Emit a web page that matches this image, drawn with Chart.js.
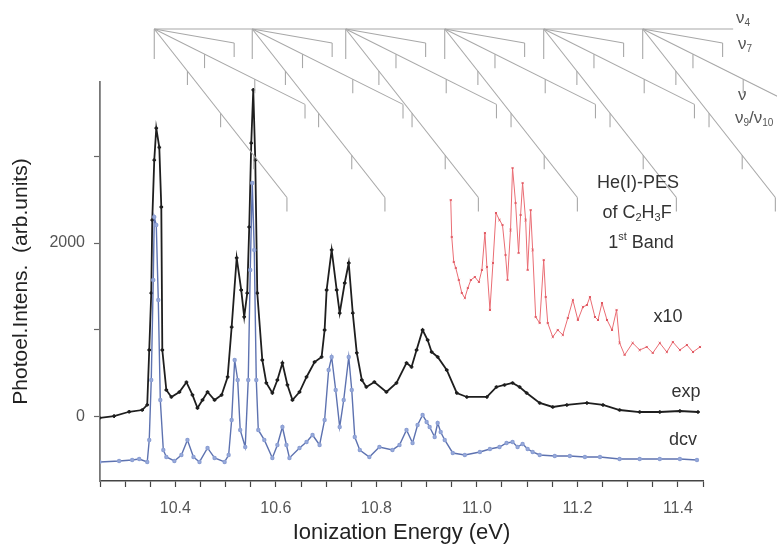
<!DOCTYPE html>
<html>
<head>
<meta charset="utf-8">
<script src="https://cdn.jsdelivr.net/npm/chart.js@4.4.1/dist/chart.umd.min.js"></script>
<style>
  html, body { margin: 0; padding: 0; background: #fff; }
  #wrap { width: 777px; height: 546px; }
</style>
</head>
<body>
<div id="wrap"><canvas id="myChart" width="777" height="546"></canvas></div>
<script>
// experimental spectrum (black)
const expEnergy = [10.249, 10.278, 10.308, 10.334, 10.344, 10.348, 10.352, 10.354, 10.358, 10.362,
  10.368, 10.372, 10.374, 10.382, 10.392, 10.408, 10.422, 10.434, 10.444, 10.454,
  10.464, 10.478, 10.492, 10.504, 10.512, 10.522, 10.531, 10.537, 10.543, 10.547,
  10.551, 10.555, 10.559, 10.563, 10.573, 10.581, 10.593, 10.603, 10.613, 10.623,
  10.633, 10.647, 10.661, 10.677, 10.691, 10.697, 10.701, 10.711, 10.721, 10.727,
  10.737, 10.745, 10.753, 10.761, 10.771, 10.780, 10.796, 10.820, 10.840, 10.860,
  10.870, 10.880, 10.892, 10.902, 10.910, 10.922, 10.940, 10.960, 10.980, 11.020,
  11.039, 11.055, 11.071, 11.085, 11.099, 11.125, 11.151, 11.179, 11.219, 11.251,
  11.284, 11.324, 11.364, 11.404, 11.440];
const expCounts = [-10, 10, 60, 80, 140, 770, 1425, 2264, 2954, 3320,
  3100, 2414, 770, 310, 230, 287, 400, 253, 103, 195,
  287, 195, 253, 460, 1034, 1828, 1460, 1150, 1425, 2184,
  3149, 3760, 2954, 1425, 655, 391, 276, 425, 621, 368,
  195, 287, 460, 632, 690, 1000, 1460, 1920, 1460, 1195,
  1540, 1770, 1195, 736, 425, 345, 402, 287, 391, 621,
  575, 770, 1000, 885, 747, 690, 540, 276, 230, 230,
  345, 368, 391, 345, 276, 161, 115, 138, 161, 138,
  80, 57, 57, 69, 57];

// deconvoluted spectrum (blue), offset below
const dcvEnergy = [10.249, 10.288, 10.314, 10.328, 10.344, 10.348, 10.352, 10.356, 10.358, 10.362,
  10.366, 10.370, 10.376, 10.382, 10.398, 10.412, 10.424, 10.436, 10.448, 10.464,
  10.478, 10.498, 10.506, 10.512, 10.518, 10.524, 10.529, 10.539, 10.545, 10.549,
  10.553, 10.557, 10.561, 10.565, 10.577, 10.593, 10.603, 10.613, 10.621, 10.627,
  10.647, 10.661, 10.673, 10.687, 10.697, 10.705, 10.711, 10.719, 10.727, 10.735,
  10.745, 10.751, 10.757, 10.767, 10.786, 10.806, 10.832, 10.846, 10.860, 10.872,
  10.882, 10.892, 10.900, 10.906, 10.916, 10.922, 10.928, 10.936, 10.952, 10.976,
  11.006, 11.026, 11.045, 11.059, 11.071, 11.081, 11.091, 11.101, 11.111, 11.125,
  11.155, 11.185, 11.215, 11.245, 11.284, 11.324, 11.364, 11.404, 11.438];
const dcvCounts = [-517, -506, -494, -483, -517, -264, 425, 1575, 2299, 2207,
  1345, 195, -379, -460, -506, -437, -264, -460, -517, -356,
  -471, -517, -437, -34, 655, 425, -149, -345, 425, 1690,
  2690, 1920, 425, -149, -264, -471, -322, -115, -322, -471,
  -356, -287, -207, -322, -34, 540, 690, 310, -115, 195,
  690, 310, -230, -379, -460, -345, -379, -322, -149, -299,
  -92, 23, -57, -115, -230, -69, -172, -264, -414, -437,
  -402, -368, -345, -299, -287, -345, -310, -368, -402, -437,
  -448, -448, -460, -460, -483, -483, -483, -483, -494];

// high energy part magnified x10 (red)
const x10Energy = [10.948, 10.950, 10.954, 10.958, 10.964, 10.970, 10.976, 10.982, 10.988, 10.996,
  11.004, 11.010, 11.016, 11.020, 11.026, 11.032, 11.038, 11.045, 11.051, 11.057,
  11.061, 11.067, 11.071, 11.077, 11.083, 11.087, 11.091, 11.097, 11.101, 11.107,
  11.111, 11.117, 11.125, 11.133, 11.137, 11.141, 11.151, 11.161, 11.171, 11.181,
  11.191, 11.201, 11.211, 11.219, 11.225, 11.235, 11.241, 11.249, 11.259, 11.269,
  11.278, 11.284, 11.294, 11.310, 11.324, 11.338, 11.350, 11.364, 11.378, 11.390,
  11.404, 11.418, 11.430, 11.444];
const x10Counts = [2494, 2069, 1782, 1713, 1575, 1425, 1368, 1483, 1575, 1609,
  1552, 1690, 2115, 1724, 1230, 1770, 2345, 2264, 2207, 1862,
  1575, 2149, 2862, 2460, 1885, 2322, 2690, 2264, 1690, 2379,
  1920, 1149, 1080, 1805, 1379, 1080, 920, 1000, 943, 1138,
  1345, 1115, 1264, 1287, 1379, 1149, 1115, 1310, 1115, 1000,
  1230, 851, 713, 851, 770, 805, 736, 851, 747, 862,
  770, 828, 747, 805];

// vibrational progressions (eV)
const nu4Origins = [10.358, 10.553, 10.739, 10.936, 11.133, 11.330];
const nu4End = 11.51;
const nu7Quanta = [0.159];
const nuQuanta = [0.10, 0.20, 0.30];
const nu9Quanta = [0.066, 0.132, 0.198, 0.264];

const yTickValues = [0, 1000, 2000, 3000];
const yTickLabels = [0, 2000];

const FONT = '"Liberation Sans", Arial, sans-serif';

function toXY(xs, ys) {
  return xs.map(function(v, i) { return {x: v, y: ys[i]}; });
}

function drawRich(ctx, parts, x, y, size, align) {
  // parts: [text, 'n'|'sub'|'sup']
  let w = 0;
  parts.forEach(function(p) {
    ctx.font = (p[1] === 'n' ? size : Math.round(size * 0.6)) + 'px ' + FONT;
    w += ctx.measureText(p[0]).width;
  });
  let cx = align === 'center' ? x - w / 2 : (align === 'right' ? x - w : x);
  ctx.textAlign = 'left';
  ctx.textBaseline = 'middle';
  parts.forEach(function(p) {
    const s = p[1] === 'n' ? size : Math.round(size * 0.6);
    ctx.font = s + 'px ' + FONT;
    let dy = 0;
    if (p[1] === 'sub') dy = size * 0.3;
    if (p[1] === 'sup') dy = -size * 0.35;
    ctx.fillText(p[0], cx, y + dy);
    cx += ctx.measureText(p[0]).width;
  });
}

const decorations = {
  id: 'decorations',
  afterDraw(chart) {
    const ctx = chart.ctx;
    const xs = chart.scales.x;
    const top = 29;
    let origin = 0;
    ctx.save();
    ctx.strokeStyle = '#a8a8a8';
    ctx.lineWidth = 1.1;
    function line(x1, y1, x2, y2) {
      ctx.beginPath(); ctx.moveTo(x1, y1); ctx.lineTo(x2, y2); ctx.stroke();
    }
    function branch(ox, quanta, slope, tick) {
      let lastX = ox, lastY = top;
      quanta.forEach(function(q) {
        const px = xs.getPixelForValue(origin + q);
        const py = top + (px - ox) * slope;
        line(px, py, px, py + tick);
        lastX = px; lastY = py;
      });
      line(ox, top, lastX, lastY);
    }
    line(xs.getPixelForValue(nu4Origins[0]), top, xs.getPixelForValue(nu4End), top);
    nu4Origins.forEach(function(o) {
      origin = o;
      const ox = xs.getPixelForValue(o);
      line(ox, top, ox, top + 30);
      branch(ox, nu7Quanta, 0.175, 14);
      branch(ox, nuQuanta, 0.5, 14);
      branch(ox, nu9Quanta, 1.27, 14);
    });

    ctx.fillStyle = '#555';
    drawRich(ctx, [['\u03bd', 'n'], ['4', 'sub']], 736, 18, 17, 'left');
    drawRich(ctx, [['\u03bd', 'n'], ['7', 'sub']], 738, 44, 17, 'left');
    drawRich(ctx, [['\u03bd', 'n']], 738, 95, 17, 'left');
    drawRich(ctx, [['\u03bd', 'n'], ['9', 'sub'], ['/\u03bd', 'n'], ['10', 'sub']], 735, 118, 17, 'left');

    ctx.fillStyle = '#333';
    drawRich(ctx, [['He(I)-PES', 'n']], 638, 183, 18, 'center');
    drawRich(ctx, [['of C', 'n'], ['2', 'sub'], ['H', 'n'], ['3', 'sub'], ['F', 'n']], 637, 213, 18, 'center');
    drawRich(ctx, [['1', 'n'], ['st', 'sup'], [' Band', 'n']], 641, 243, 18, 'center');
    drawRich(ctx, [['x10', 'n']], 668, 317, 18, 'center');
    drawRich(ctx, [['exp', 'n']], 686, 392, 18, 'center');
    drawRich(ctx, [['dcv', 'n']], 683, 440, 18, 'center');
    ctx.restore();
  }
};

const ctx = document.getElementById('myChart').getContext('2d');
const chart = new Chart(ctx, {
  type: 'line',
  data: {
    datasets: [{
      label: 'x10',
      data: toXY(x10Energy, x10Counts),
      borderColor: '#ea6d74',
      backgroundColor: '#ea6d74',
      borderWidth: 1,
      pointRadius: 1.5,
      pointStyle: 'crossRot',
      pointBorderColor: '#e0555e',
      tension: 0
    },
    {
      label: 'dcv',
      data: toXY(dcvEnergy, dcvCounts),
      borderColor: '#5d72b0',
      backgroundColor: '#9fb2e0',
      borderWidth: 1.4,
      pointRadius: 1.5,
      pointBorderColor: '#8da0d4',
      tension: 0
    },
    {
      label: 'exp',
      data: toXY(expEnergy, expCounts),
      borderColor: '#1e1e1e',
      backgroundColor: '#1e1e1e',
      borderWidth: 1.8,
      pointRadius: 1.8,
      pointStyle: 'cross',
      pointBorderColor: '#1e1e1e',
      tension: 0
    }]
  },
  options: {
    responsive: false,
    animation: false,
    layout: { padding: { left: 0, top: 82, right: 74, bottom: 0 } },
    plugins: {
      legend: { display: false },
      tooltip: { enabled: false }
    },
    scales: {
      x: {
        type: 'linear',
        min: 10.25,
        max: 11.45,
        afterFit: function(scale) { scale.height = 65; },
        grid: { drawOnChartArea: false, tickLength: 6, tickColor: '#444', tickWidth: 1.2 },
        border: { color: '#444', width: 1.5 },
        ticks: {
          stepSize: 0.05,
          includeBounds: false,
          autoSkip: false,
          maxRotation: 0,
          padding: 12,
          color: '#555',
          font: { family: FONT, size: 16 },
          callback: function(v) {
            const k = v * 5;
            return Math.abs(k - Math.round(k)) < 1e-6 ? v.toFixed(1) : '';
          }
        },
        title: {
          display: true,
          text: 'Ionization Energy (eV)',
          color: '#222',
          font: { family: FONT, size: 22 },
          padding: { top: 0, bottom: 0 }
        }
      },
      y: {
        min: -736,
        max: 3851,
        afterFit: function(scale) { scale.width = 100; },
        afterBuildTicks: function(scale) {
          scale.ticks = yTickValues.map(function(v) { return {value: v}; });
        },
        grid: { drawOnChartArea: false, tickLength: 6, tickColor: '#666', tickWidth: 1.2 },
        border: { color: '#777', width: 1.8 },
        ticks: {
          padding: 9,
          color: '#555',
          font: { family: FONT, size: 16 },
          callback: function(v) { return yTickLabels.indexOf(v) >= 0 ? String(v) : ''; }
        },
        title: {
          display: true,
          text: 'Photoel.Intens.  (arb.units)',
          color: '#222',
          font: { family: FONT, size: 21 },
          padding: { top: 9, bottom: 0 }
        }
      }
    }
  },
  plugins: [decorations]
});
</script>
</body>
</html>
